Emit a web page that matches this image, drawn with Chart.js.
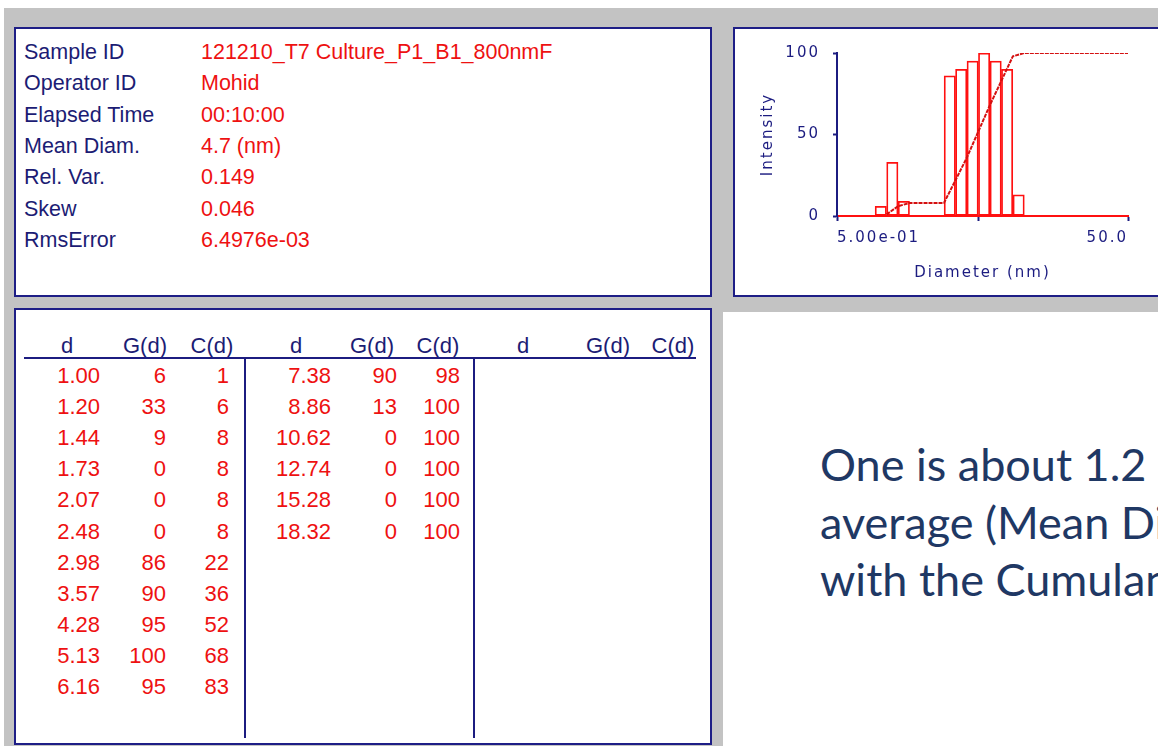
<!DOCTYPE html>
<html>
<head>
<meta charset="utf-8">
<script src="https://cdn.jsdelivr.net/npm/chart.js@4/dist/chart.umd.min.js"></script>
<style>
  body { margin: 0; width: 1158px; height: 746px; overflow: hidden; background: #fff; position: relative;
         font-family: "Liberation Sans", Arial, sans-serif; }
  .abs { position: absolute; }
  #gray { left: 4px; top: 8px; width: 1154px; height: 738px; background: #c3c3c3; }
  .panel { background: #fff; border: 2px solid #1e1e86; box-sizing: border-box; }
  .cell { position: absolute; white-space: nowrap; line-height: 30px; height: 30px; }
  .navy { color: #1c1c74; }
  .red { color: #ee1111; }
  #note { left: 820px; top: 436px; width: 338px; overflow: hidden; font-family: Lato, sans-serif; font-size: 45px;
          line-height: 57.5px; color: #1f3864; white-space: nowrap; }
</style>
</head>
<body>
<div id="gray" class="abs"></div>
<div id="info" class="abs panel" style="left:14px;top:27px;width:698px;height:270px"></div>
<div id="table" class="abs panel" style="left:14px;top:308px;width:698px;height:437px"></div>
<div class="abs panel" style="left:733px;top:27px;width:440px;height:270px"></div>
<div class="abs" style="left:723px;top:312px;width:435px;height:434px;background:#fff"></div>
<div class="abs" style="left:735px;top:29px;width:423px;height:266px">
  <canvas id="chart" width="423" height="266"></canvas>
</div>
<div id="note" class="abs">One is about 1.2 nm<br>average (Mean Diam.)<br>with the Cumulant</div>
<div id="cells"></div>

<script>
// header info
const infoLabels = ['Sample ID', 'Operator ID', 'Elapsed Time', 'Mean Diam.', 'Rel. Var.', 'Skew', 'RmsError']
const infoValues = ['121210_T7 Culture_P1_B1_800nmF', 'Mohid', '00:10:00', '4.7 (nm)', '0.149', '0.046', '6.4976e-03']

// size distribution table
const diam = [1.00, 1.20, 1.44, 1.73, 2.07, 2.48, 2.98, 3.57, 4.28, 5.13, 6.16, 7.38, 8.86, 10.62, 12.74, 15.28, 18.32]
const intensity = [6, 33, 9, 0, 0, 0, 86, 90, 95, 100, 95, 90, 13, 0, 0, 0, 0]
const cumulative = [1, 6, 8, 8, 8, 8, 22, 36, 52, 68, 83, 98, 100, 100, 100, 100, 100]

const meanDiam = 4.7
const xTickValues = [0.5, meanDiam, 50]
const xTickLabels = ['5.00e-01', '', '50.0']
const binStep = 1.2   // ratio between neighbouring diameters

const cells = document.getElementById('cells')
function put (text, x, y, align, cls, size) {
  const el = document.createElement('div')
  el.className = 'cell ' + cls
  el.textContent = text
  el.style.fontSize = size + 'px'
  el.style.top = (y - 15) + 'px'
  if (align === 'left') el.style.left = x + 'px'
  if (align === 'right') { el.style.left = (x - 200) + 'px'; el.style.width = '200px'; el.style.textAlign = 'right' }
  if (align === 'center') { el.style.left = (x - 100) + 'px'; el.style.width = '200px'; el.style.textAlign = 'center' }
  cells.appendChild(el)
}

infoLabels.forEach((t, i) => {
  put(t, 24, 52 + i * 31.3, 'left', 'navy', 21.5)
  put(infoValues[i], 201, 52 + i * 31.3, 'left', 'red', 21.5)
})

// table headers, three column blocks
const blockHeads = [[67, 145, 212], [296, 372, 438], [523, 608, 673]]
blockHeads.forEach(b => {
  put('d', b[0], 346, 'center', 'navy', 22)
  put('G(d)', b[1], 346, 'center', 'navy', 22)
  put('C(d)', b[2], 346, 'center', 'navy', 22)
})
const blockRights = [[100, 166, 229], [331, 397, 460]]
const rowsPerBlock = 11
diam.forEach((d, i) => {
  const b = blockRights[Math.floor(i / rowsPerBlock)]
  const y = 376 + (i % rowsPerBlock) * 31.1
  put(d.toFixed(2), b[0], y, 'right', 'red', 22)
  put(String(intensity[i]), b[1], y, 'right', 'red', 22)
  put(String(cumulative[i]), b[2], y, 'right', 'red', 22)
})

function line (x, y, w, h) {
  const el = document.createElement('div')
  el.className = 'abs'
  Object.assign(el.style, { left: x + 'px', top: y + 'px', width: w + 'px', height: h + 'px', background: '#1c1c80' })
  cells.appendChild(el)
}
line(24, 357, 672, 2)
line(244, 358, 2, 380)
line(473, 358, 2, 380)

const navy = '#1c1c80'
const red = '#ff1010'
const halfBin = Math.sqrt(binStep)

const spacing = {
  id: 'spacing',
  beforeLayout: c => { c.ctx.letterSpacing = '2px' },
  beforeDraw: c => { c.ctx.letterSpacing = '2px' }
}

const chart = new Chart('chart', {
  type: 'bar',
  data: {
    datasets: [{
      type: 'line',
      xAxisID: 'x2',
      data: diam.map((d, i) => ({ x: d, y: cumulative[i] })).concat([{ x: 50 / halfBin, y: cumulative[cumulative.length - 1] }]),
      borderColor: '#d41010',
      borderWidth: 2,
      borderDash: [4, 1],
      pointRadius: 0,
      tension: 0
    }, {
      data: diam.map((d, i) => ({ x: d, y: intensity[i] })),
      backgroundColor: 'rgba(255,255,255,0)',
      borderColor: red,
      borderWidth: 1.1,
      borderSkipped: false,
      grouped: false,
      barPercentage: 1,
      categoryPercentage: 1
    }]
  },
  options: {
    responsive: false,
    animation: false,
    layout: { padding: { left: 14, right: 30, top: 24, bottom: 9 } },
    plugins: { legend: { display: false }, tooltip: { enabled: false } },
    scales: {
      x: {
        type: 'logarithmic',
        min: 0.5,
        max: 50,
        offset: false,
        afterFit: s => { s.height = 70 },
        afterBuildTicks: s => { s.ticks = xTickValues.map(v => ({ value: v })) },
        border: { color: red, width: 2 },
        grid: { offset: false, drawOnChartArea: false, color: navy, tickLength: 5, tickWidth: 2 },
        ticks: {
          autoSkip: false,
          maxRotation: 0,
          align: 'inner',
          padding: 8,
          color: navy,
          font: { family: 'DejaVu Sans', size: 15 },
          callback: (v, i) => xTickLabels[i]
        },
        title: {
          display: true,
          text: 'Diameter (nm)',
          color: navy,
          font: { family: 'DejaVu Sans', size: 15 },
          padding: { top: 0, bottom: 4 }
        }
      },
      x2: {
        type: 'logarithmic',
        display: false,
        min: 0.5 / halfBin,
        max: 50 / halfBin,
        offset: false
      },
      y: {
        min: 0,
        max: 100,
        afterFit: s => { s.width = 88 },
        border: { color: navy, width: 2 },
        grid: { drawOnChartArea: false, color: navy, tickLength: 4, tickWidth: 2 },
        ticks: { stepSize: 50, padding: 13, color: navy, font: { family: 'DejaVu Sans', size: 15 } },
        title: {
          display: true,
          text: 'Intensity',
          color: navy,
          font: { family: 'DejaVu Sans', size: 15 },
          padding: { top: 10, bottom: 0 }
        }
      }
    }
  },
  plugins: [spacing]
})
</script>
</body>
</html>
